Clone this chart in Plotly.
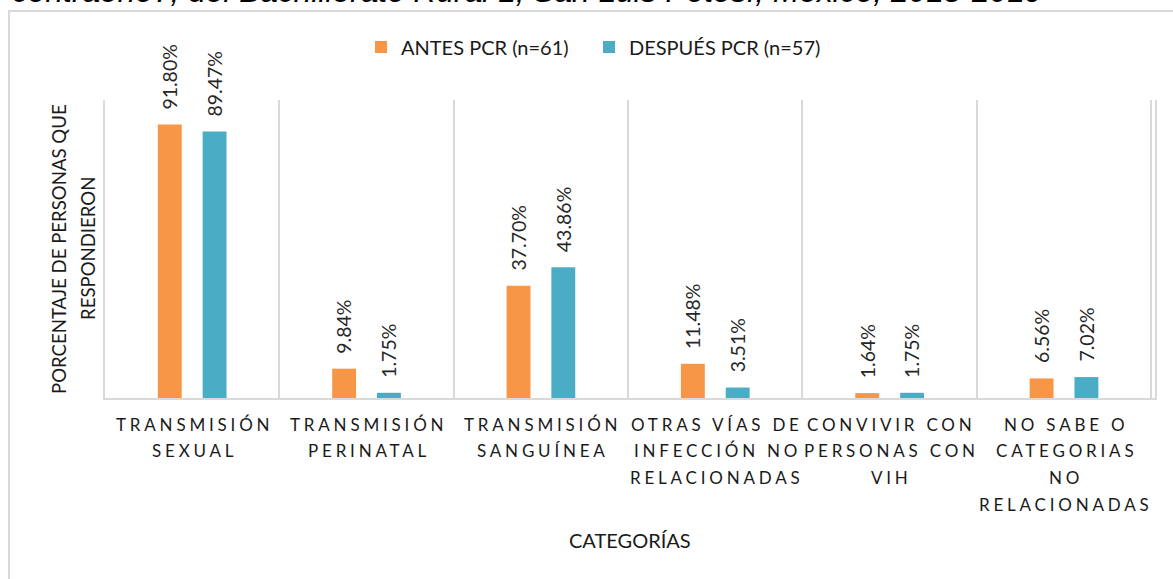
import plotly.graph_objects as go

# ---- data ----
categorias = [
    "TRANSMISIÓN<br>SEXUAL",
    "TRANSMISIÓN<br>PERINATAL",
    "TRANSMISIÓN<br>SANGUÍNEA",
    "OTRAS VÍAS DE<br>INFECCIÓN NO<br>RELACIONADAS",
    "CONVIVIR CON<br>PERSONAS CON<br>VIH",
    "NO SABE O<br>CATEGORIAS<br>NO<br>RELACIONADAS",
]
antes = [91.80, 9.84, 37.70, 11.48, 1.64, 6.56]
despues = [89.47, 1.75, 43.86, 3.51, 1.75, 7.02]
nombres = ["ANTES PCR (n=61)", "DESPUÉS PCR (n=57)"]
colores = ["#F79646", "#4BACC6"]
titulo_y = ["PORCENTAJE DE PERSONAS QUE", "RESPONDIERON"]
titulo_x = "CATEGORÍAS"
titulo = "contraerlo?, del Bachillerato Rural 1, San Luis Potosí, México, 2018-2019"

W, H = 1173, 579
L, R, T, B = 105, 18, 100, 181
PW, PH = W - L - R, H - T - B
FONT = "Lato, Carlito, Calibri, sans-serif"

fig = go.Figure()
for k, (nombre, vals, col) in enumerate(zip(nombres, [antes, despues], colores)):
    fig.add_trace(go.Bar(
        x=categorias, y=vals, name=nombre,
        marker=dict(color=col, line=dict(width=0)),
        legendwidth=183 if k == 0 else None,
    ))

ann = []
# category labels, one annotation per line for the wide line spacing
for cat in categorias:
    for i, linea in enumerate(cat.split("<br>")):
        ann.append(dict(
            x=cat, xref="x", y=0, yref="paper", yanchor="middle", showarrow=False,
            yshift=-26 - 26.7 * i, xshift=2,
            text=f'<span style="letter-spacing:3.8px">{linea}</span>',
            font=dict(family=FONT, size=17, color="#1a1a1a"),
        ))

# data labels
for vals, dx in zip([antes, despues], [-22.5, 22.5]):
    for cat, v in zip(categorias, vals):
        ann.append(dict(
            x=cat, xref="x", y=v, yref="y", xshift=dx, yshift=13,
            yanchor="bottom", showarrow=False, textangle=-90,
            text=f"{v:.2f}%", font=dict(family=FONT, size=19.5, color="#262626"),
        ))

# y title lines
for i, linea in enumerate(titulo_y):
    ann.append(dict(
        x=(59 + 29 * i - L) / PW, xref="paper", y=0.5, yref="paper",
        xanchor="center", yanchor="middle", showarrow=False, textangle=-90,
        text=linea, font=dict(family=FONT, size=18.6, color="#1a1a1a"),
    ))

# x title
ann.append(dict(
    x=0.5, xref="paper", y=0, yref="paper", yshift=-(540 - (T + PH)),
    xanchor="center", yanchor="middle", showarrow=False,
    text=titulo_x, font=dict(family=FONT, size=20, color="#1a1a1a"),
))

# cut-off document caption at top
ann.append(dict(
    x=(10 - L) / PW, xref="paper", y=(T + PH - 11) / PH, yref="paper",
    xanchor="left", yanchor="bottom", showarrow=False,
    text=f"<i>{titulo}</i>", font=dict(family="Liberation Sans, Arial, sans-serif", size=31.7, color="#000000"),
))

fig.update_layout(
    width=W, height=H,
    margin=dict(l=L, r=R, t=T, b=B),
    paper_bgcolor="white", plot_bgcolor="white",
    barmode="group", bargap=0.486, bargroupgap=0.467,
    font=dict(family=FONT, color="#1a1a1a"),
    legend=dict(
        orientation="h", x=(361 - L) / PW, xanchor="left",
        y=(T + PH - 47) / PH, yanchor="middle",
        font=dict(family=FONT, size=20, color="#1a1a1a"),
        bgcolor="rgba(0,0,0,0)",
    ),
    annotations=ann,
    shapes=[dict(
        type="rect", xref="paper", yref="paper",
        x0=(9 - L) / PW, x1=3, y0=-3, y1=(T + PH - 11) / PH,
        line=dict(color="#D9D9D9", width=2), fillcolor="rgba(0,0,0,0)", layer="below",
    )],
)
fig.update_xaxes(
    type="category", tickson="boundaries", showgrid=True, gridcolor="#D9D9D9", gridwidth=1.5,
    showticklabels=False, ticks="", showline=True, linecolor="#D9D9D9", linewidth=1.5,
    zeroline=False,
)
fig.update_yaxes(
    range=[0, 100], showgrid=False, showticklabels=False, ticks="", zeroline=False,
    showline=True, linecolor="#D9D9D9", linewidth=1.5, mirror=True,
)

fig.write_html(
    "out.html",
    config={"displayModeBar": False},
    post_script="document.body.style.margin='0';document.body.style.overflow='hidden';",
)
